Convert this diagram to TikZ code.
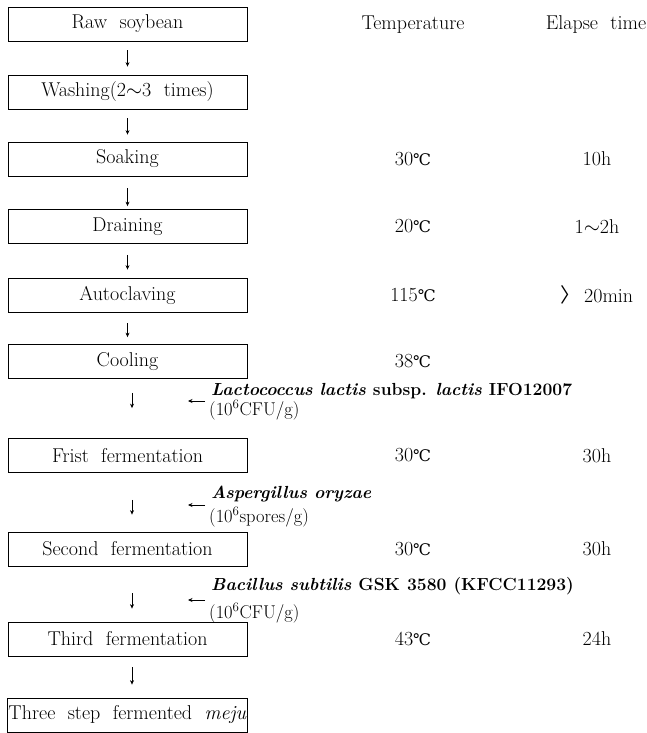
\documentclass[tikz,border=0pt]{standalone}
\usepackage{fontspec}
\newfontfamily\degfont{DejaVu Serif}
\newfontfamily\cjkfont{Noto Sans CJK KR}
\usetikzlibrary{arrows.meta}
\newcommand{\mydegc}{{\degfont\fontsize{16}{16}\selectfont ℃}}
\newcommand{\bigfont}{\fontsize{20}{24}\selectfont\spaceskip=0.62em plus 0.1em minus 0.1em\relax}
\newcommand{\labfont}{\fontsize{17.5}{20}\selectfont\spaceskip=0.4em plus 0.1em minus 0.05em\relax}
\newcommand{\labregfont}{\fontsize{18.5}{20}\selectfont}
\begin{document}
\begin{tikzpicture}[x=1pt,y=-1pt,
  stepbox/.style={draw, line width=0.8pt, minimum width=239pt, minimum height=34pt,
    inner sep=1pt, font=\bigfont},
  txt/.style={inner sep=0pt, font=\bigfont},
  lab/.style={anchor=west, inner sep=0pt, font=\labfont},
  labb/.style={anchor=west, inner sep=0pt, font=\labregfont},
  flow/.style={line width=0.6pt, -{Stealth[length=4.5pt,width=4pt,inset=1.5pt]}},
  gap/.style 2 args={shorten <=#1pt, shorten >=#2pt}]
\useasboundingbox (0,0) rectangle (647,733);

% flow boxes
\node[stepbox] (raw)    at (127.5,24)  {Raw soybean};
\node[stepbox] (wash)   at (127.5,92)  {Washing(2$\sim$3 times)};
\node[stepbox] (soak)   at (127.5,159) {Soaking};
\node[stepbox] (drain)  at (127.5,226.5) {Draining};
\node[stepbox] (auto)   at (127.5,295) {Autoclaving};
\node[stepbox] (cool)   at (127.5,361.5) {Cooling};
\node[stepbox] (first)  at (127.5,455.5) {Frist fermentation};
\node[stepbox] (second) at (127.5,549) {Second fermentation};
\node[stepbox] (third)  at (127.5,639) {Third fermentation};
\node[stepbox] (final)  at (127.5,715) {Three step fermented \textit{meju}};

% arrows
\draw[flow, gap={9}{8}]   (raw) -- (wash);
\draw[flow, gap={9}{7}]   (wash) -- (soak);
\draw[flow, gap={12}{3}]  (soak) -- (drain);
\draw[flow, gap={11}{8}]  (drain) -- (auto);
\draw[flow, gap={11}{7}]  (auto) -- (cool);
\draw[flow, gap={14}{30}] ([xshift=4.5pt]cool.south) -- ([xshift=4.5pt]first.north);
\draw[flow, gap={27}{17}] ([xshift=4.5pt]first.south) -- ([xshift=4.5pt]second.north);
\draw[flow, gap={27}{13}] ([xshift=4.5pt]second.south) -- ([xshift=4.5pt]third.north);
\draw[flow, gap={11}{13}] ([xshift=4.5pt]third.south) -- ([xshift=4.5pt]final.north);

% column headers
\coordinate (tc) at (413,0);
\coordinate (ec) at (597,0);
\node[txt] (htemp) at (413,25) {Temperature};
\node[txt] (htime) at (596,25) {Elapse time};

% temperatures
\node[txt] (t1) at (tc |- soak)   {30\mydegc};
\node[txt] (t2) at (tc |- drain)  {20\mydegc};
\node[txt] (t3) at (tc |- auto)   {115\mydegc};
\node[txt] (t4) at (tc |- cool)   {38\mydegc};
\node[txt] (t5) at (tc |- first)  {30\mydegc};
\node[txt] (t6) at (tc |- second) {30\mydegc};
\node[txt] (t7) at (tc |- third)  {43\mydegc};

% times
\node[txt] (e1) at (ec |- soak)   {10h};
\node[txt] (e2) at (ec |- drain)  {1$\sim$2h};
\node[txt] (e3) at (ec |- auto)   {{\cjkfont 〉}\,20min};
\node[txt] (e5) at (ec |- first)  {30h};
\node[txt] (e6) at (ec |- second) {30h};
\node[txt] (e7) at (ec |- third)  {24h};

% inocula
\node[lab] (lac1) at (211,391) {\textbf{\textit{Lactococcus lactis}} \textbf{subsp.} \textbf{\textit{lactis}} \textbf{IFO12007}};
\node[labb] (lac2) at (209,410) {(10\textsuperscript{6}CFU/g)};
\node[lab] (asp1) at (211,494) {\textbf{\textit{Aspergillus oryzae}}};
\node[labb] (asp2) at (209,517) {(10\textsuperscript{6}spores/g)};
\node[lab] (bac1) at (211,586) {\textbf{\textit{Bacillus subtilis}} \textbf{GSK 3580 (KFCC11293)}};
\node[labb] (bac2) at (209,613) {(10\textsuperscript{6}CFU/g)};

\coordinate (in1) at (188,401);
\coordinate (in2) at (188,505);
\coordinate (in3) at (188,600);
\draw[flow, shorten <=6pt] (lac1.west |- in1) -- (in1);
\draw[flow, shorten <=6pt] (asp1.west |- in2) -- (in2);
\draw[flow, shorten <=6pt] (bac1.west |- in3) -- (in3);
\end{tikzpicture}
\end{document}
